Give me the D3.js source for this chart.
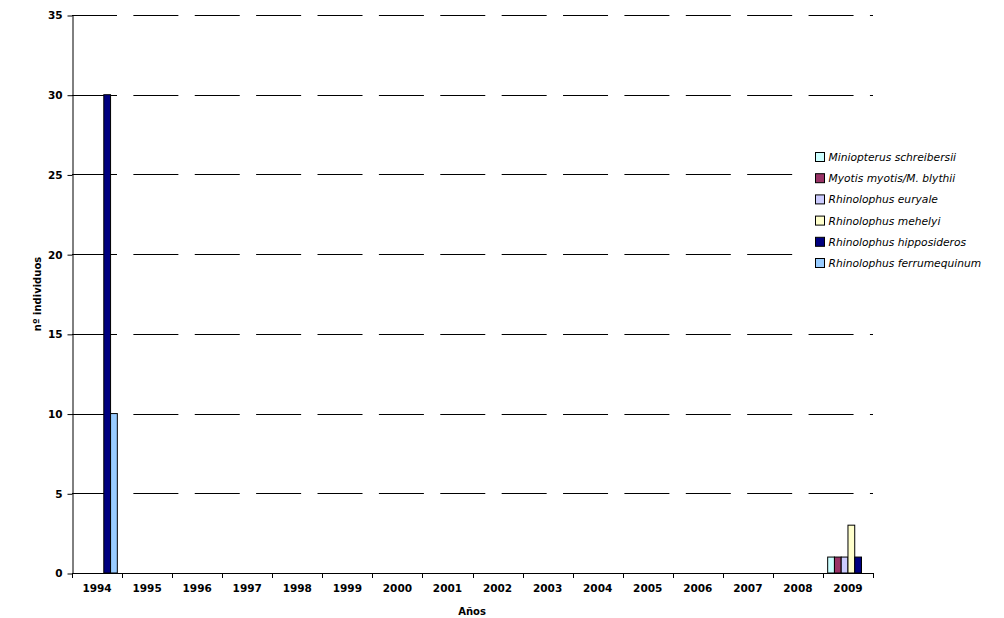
<!DOCTYPE html>
<html><head><meta charset="utf-8">
<script src="https://cdn.jsdelivr.net/npm/d3@7"></script>
<style>body{margin:0;background:#fff}</style>
</head><body>
<script>
const years = ["1994","1995","1996","1997","1998","1999","2000","2001","2002","2003","2004","2005","2006","2007","2008","2009"];
const species = ["Miniopterus schreibersii","Myotis myotis/M. blythii","Rhinolophus euryale","Rhinolophus mehelyi","Rhinolophus hipposideros","Rhinolophus ferrumequinum"];
const colors = ["#CCFFFF","#993366","#CCCCFF","#FFFFCC","#000080","#99CCFF"];
const schreibersii   = [0,0,0,0,0,0,0,0,0,0,0,0,0,0,0,1];
const myotis         = [0,0,0,0,0,0,0,0,0,0,0,0,0,0,0,1];
const euryale        = [0,0,0,0,0,0,0,0,0,0,0,0,0,0,0,1];
const mehelyi        = [0,0,0,0,0,0,0,0,0,0,0,0,0,0,0,3];
const hipposideros   = [30,0,0,0,0,0,0,0,0,0,0,0,0,0,0,1];
const ferrumequinum  = [10,0,0,0,0,0,0,0,0,0,0,0,0,0,0,0];
const series = [schreibersii,myotis,euryale,mehelyi,hipposideros,ferrumequinum];
const yTicks = [0,5,10,15,20,25,30,35];

(function(){
const W=1004,H=618;
const pL=72,pR=873,pT=15,pB=573;
const svg=d3.select("body").append("svg").attr("width",W).attr("height",H);
const x=d3.scaleBand().domain(years).range([pL,pR]).paddingInner(0).paddingOuter(0);
const x1=d3.scaleBand().domain(d3.range(species.length)).range([0,x.bandwidth()]).paddingInner(0).paddingOuter(0.7);
const y=d3.scaleLinear().domain([0,35]).range([pB,pT]);

// gridlines
svg.append("g").selectAll("line").data(yTicks.filter(d=>d>0)).join("line")
  .attr("x1",pL).attr("x2",pR).attr("y1",d=>Math.round(y(d))+0.5).attr("y2",d=>Math.round(y(d))+0.5)
  .attr("stroke","#000").attr("stroke-width",1).attr("stroke-dasharray","45,16.38");

// bars
const data=[];
years.forEach((yr,i)=>series.forEach((s,j)=>{ if(s[i]>0) data.push({yr,j,v:s[i]}); }));
svg.append("g").selectAll("rect").data(data).join("rect")
  .attr("x",d=>x(d.yr)+x1(d.j)).attr("width",x1.bandwidth())
  .attr("y",d=>y(d.v)).attr("height",d=>y(0)-y(d.v))
  .attr("fill",d=>colors[d.j]).attr("stroke","#000").attr("stroke-width",1);

// y axis
const ya=svg.append("g").attr("transform",`translate(${pL+0.5},0.5)`)
  .call(d3.axisLeft(y).tickValues(yTicks).tickSize(5).tickPadding(5).tickSizeOuter(0));
ya.select(".domain").attr("stroke","#000");
ya.selectAll("text").attr("font-family","DejaVu Sans").attr("font-weight","bold").attr("font-size","10.5px").attr("fill","#000");

// x axis
const xa=svg.append("g").attr("transform",`translate(0,${pB+0.5})`)
  .call(d3.axisBottom(x).tickSize(0).tickPadding(11));
xa.select(".domain").attr("stroke","#000").attr("d",`M${pL},0H${pR}`);
xa.selectAll("text").attr("font-family","DejaVu Sans").attr("font-weight","bold").attr("font-size","10.5px").attr("fill","#000");
svg.append("g").selectAll("line").data(d3.range(years.length+1)).join("line")
  .attr("x1",d=>Math.round(pL+d*x.bandwidth())+0.5).attr("x2",d=>Math.round(pL+d*x.bandwidth())+0.5)
  .attr("y1",pB).attr("y2",pB+5).attr("stroke","#000");

// titles
svg.append("text").attr("x",472).attr("y",615).attr("text-anchor","middle")
  .attr("font-family","DejaVu Sans").attr("font-weight","bold").attr("font-size","10px").text("Años");
svg.append("text").attr("transform",`translate(41,${(pT+pB)/2}) rotate(-90)`).attr("text-anchor","middle")
  .attr("font-family","DejaVu Sans").attr("font-weight","bold").attr("font-size","10px").text("nº individuos");

// legend
svg.append("rect").attr("x",800).attr("y",143).attr("width",204).attr("height",132).attr("fill","#fff");
const lg=svg.append("g").selectAll("g").data(species).join("g")
  .attr("transform",(d,i)=>`translate(815,${157+i*21.2})`);
lg.append("rect").attr("x",0.5).attr("y",-4.5).attr("width",9).attr("height",9)
  .attr("fill",(d,i)=>colors[i]).attr("stroke","#000");
lg.append("text").attr("x",13.5).attr("y",4).attr("font-family","DejaVu Sans").attr("font-style","italic")
  .attr("font-size","10.7px").text(d=>d);
})();
</script>
</body></html>
